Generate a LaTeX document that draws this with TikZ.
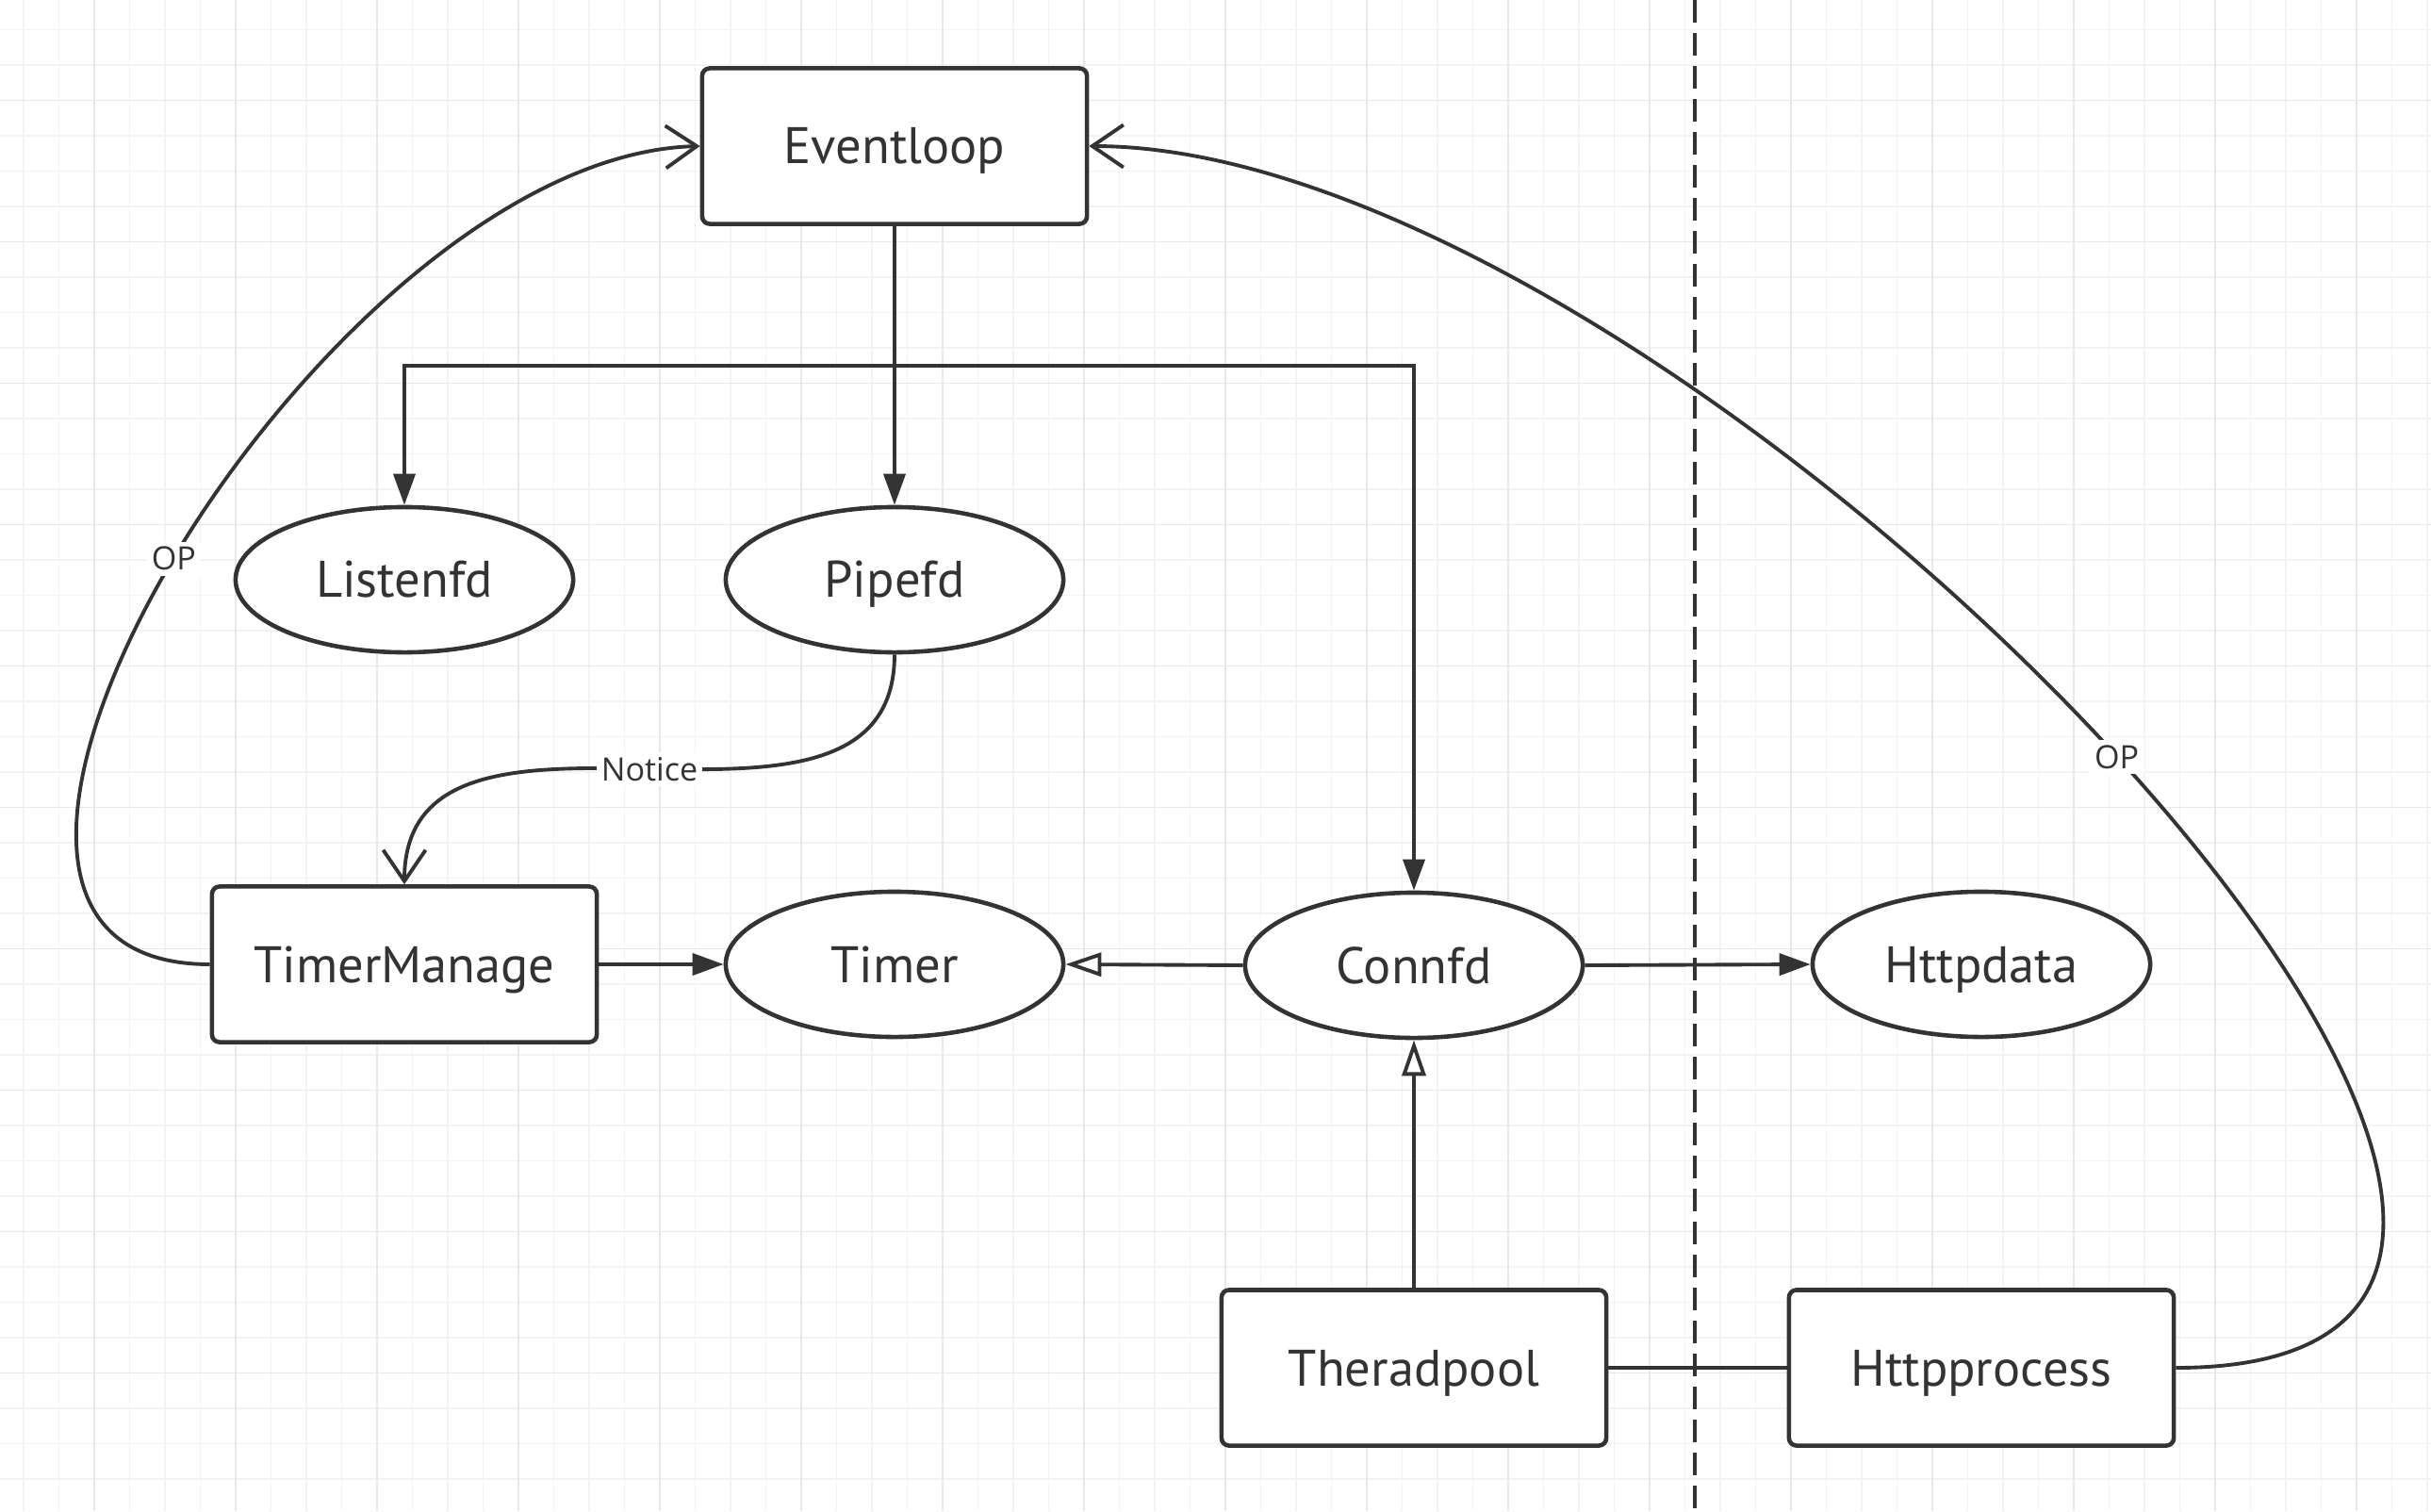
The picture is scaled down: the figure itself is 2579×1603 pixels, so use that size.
\documentclass[tikz,border=0pt]{standalone}
\usepackage{fontspec}
\setmainfont{PT Sans}
\newfontfamily\edgefont{Open Sans}
\usepackage{tikz}
\usetikzlibrary{arrows.meta, shapes.geometric}
\definecolor{ink}{HTML}{333333}
\definecolor{gridminor}{HTML}{F3F3F3}
\definecolor{gridmajor}{HTML}{E8E8E8}

\begin{document}
\begin{tikzpicture}[x=0.01cm, y=-0.01cm,
        box/.style={draw=ink, line width=1.3pt, fill=white, rounded corners=0.08cm,
            minimum width=4.08cm, minimum height=1.65cm, inner sep=0pt,
            text height=10.8pt, text depth=0pt,
            text=ink, font=\fontsize{15.5}{18}\selectfont},
        oval/.style={draw=ink, line width=1.3pt, fill=white, ellipse,
            minimum width=3.58cm, minimum height=1.54cm, inner sep=0pt,
            text height=10.8pt, text depth=0pt,
            text=ink, font=\fontsize{15.5}{18}\selectfont},
        wire/.style={draw=ink, line width=1.1pt},
        fillhead/.style={-{Triangle[length=0.33cm, width=0.23cm]}},
        openhead/.style={-{Straight Barb[length=0.33cm, width=0.45cm]}},
        hollowhead/.style={-{Triangle[open, length=0.38cm, width=0.25cm, fill=white]}},
        edgelabel/.style={fill=white, text=ink, inner sep=1.5pt,
            font=\edgefont\fontsize{9.7}{11}\selectfont}]
        \useasboundingbox (0,0) rectangle (2579,1603);
        \fill[white] (0,0) rectangle (2579,1603);
        % background grid
        \foreach \gx in {25,62.5,...,2579}
            \draw[gridminor, line width=0.4pt] (\gx,0) -- (\gx,1603);
        \foreach \gy in {31.67,69.17,...,1603}
            \draw[gridminor, line width=0.4pt] (0,\gy) -- (2579,\gy);
        \foreach \gx in {100,250,...,2579}
            \draw[gridmajor, line width=0.45pt] (\gx,0) -- (\gx,1603);
        \foreach \gy in {106.67,256.67,...,1603}
            \draw[gridmajor, line width=0.45pt] (0,\gy) -- (2579,\gy);
        % separator
        \draw[ink, line width=1.15pt, dash pattern=on 0.24cm off 0.11cm] (1798,0) -- (1798,1603);
        % nodes
        \node[box] (el) at (949,155) {Eventloop};
        \node[oval] (listen) at (429,615) {Listenfd};
        \node[oval] (pipe) at (949,615) {Pipefd};
        \node[box] (tm) at (429,1023) {TimerManage};
        \node[oval] (timer) at (949,1023) {Timer};
        \node[oval] (conn) at (1500,1024) {Connfd};
        \node[oval] (hdata) at (2102,1023) {Httpdata};
        \node[box] (tp) at (1500,1451) {Theradpool};
        \node[box] (hp) at (2102,1451) {Httpprocess};
        \coordinate (fork) at (949,388);
        % edges
        \draw[wire, fillhead] (el.south) -- (pipe.north);
        \draw[wire, fillhead] (fork) -| (listen.north);
        \draw[wire, fillhead] (fork) -| (conn.north);
        \draw[wire, fillhead] (tm.east) -- (timer.west);
        \draw[wire, hollowhead] (conn.west) -- (timer.east);
        \draw[wire, fillhead] (conn.east) -- (hdata.west);
        \draw[wire, hollowhead] (tp.north) -- (conn.south);
        \draw[wire] (tp.east) -- (hp.west);
        \draw[wire, openhead] (pipe.south) .. controls +(0,250) and +(0,-250) .. (tm.north)
            node[edgelabel, pos=0.5] {Notice};
        \draw[wire, openhead] (tm.west) .. controls +(-395,0) and +(-400,10) .. (el.west)
            node[edgelabel, pos=0.5] {OP};
        \draw[wire, openhead] (hp.east) .. controls +(720,0) and +(650,0) .. (el.east)
            node[edgelabel, pos=0.5] {OP};
\end{tikzpicture}
\end{document}
